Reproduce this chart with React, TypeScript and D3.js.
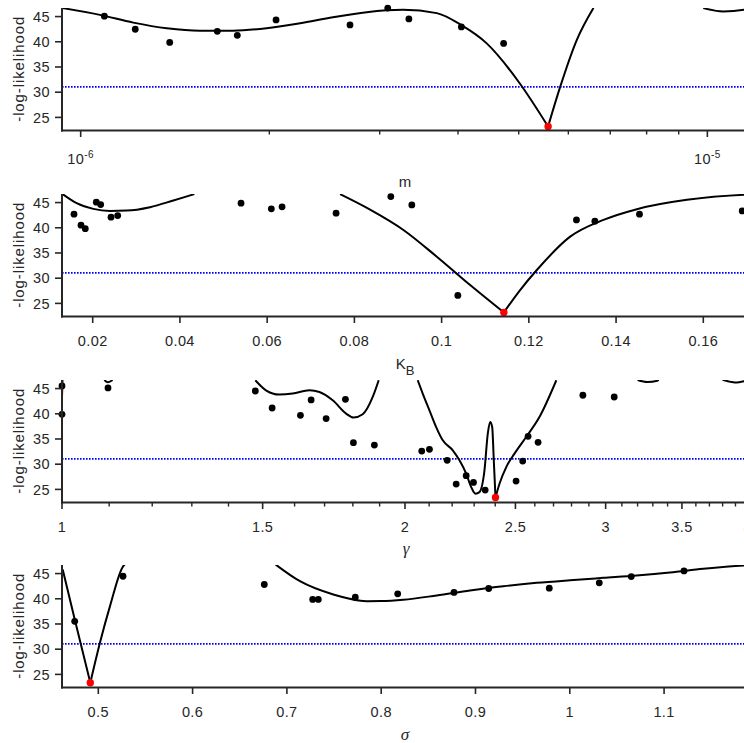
import React from 'react';
import * as d3 from 'd3';

type Pt = [number, number];

// ---------- shared ----------
const Y_DOMAIN: [number, number] = [22.4, 46.7];
const Y_TICKS = [25, 30, 35, 40, 45];
const THRESHOLD = 31.05;
const Y_LABEL = '-log-likelihood';

// ---------- panel 1 : m (log x) ----------
const mTicks = [1e-6, 1e-5];
const mTickExp = ['-6', '-5'];
const mMinor = [2e-6, 3e-6, 4e-6, 5e-6, 6e-6, 7e-6, 8e-6, 9e-6];
const mPoints: Pt[] = [
  [1.091e-6, 45.08], [1.222e-6, 42.48], [1.387e-6, 39.88], [1.652e-6, 42.08], [1.778e-6, 41.28],
  [2.05e-6, 44.34], [2.69e-6, 43.34], [3.09e-6, 46.68], [3.34e-6, 44.54], [4.05e-6, 42.94], [4.73e-6, 39.68],
];
const mBest: Pt = [5.57e-6, 23.2];
const mCurveA: Pt[] = [
  [9.36e-7, 46.68], [1.073e-6, 45.34], [1.213e-6, 43.8], [1.372e-6, 42.68], [1.55e-6, 42.2], [1.75e-6, 42.2],
  [1.98e-6, 42.68], [2.239e-6, 43.68], [2.527e-6, 44.88], [2.86e-6, 45.88], [3.269e-6, 46.34], [3.7e-6, 45.68],
  [4.045e-6, 43.34], [4.445e-6, 39.68], [5.024e-6, 31.68], [5.57e-6, 23.2],
];
const mCurveB: Pt[] = [[5.57e-6, 23.2], [5.821e-6, 31.0], [6.188e-6, 40.34], [6.58e-6, 46.7]];
const mCurveC: Pt[] = [[9.85e-6, 46.68], [1.06e-5, 46.0], [1.144e-5, 46.34], [1.17e-5, 46.6]];

// ---------- panel 2 : K_B ----------
const kTicks = [0.02, 0.04, 0.06, 0.08, 0.1, 0.12, 0.14, 0.16];
const kPoints: Pt[] = [
  [0.01571, 42.69], [0.01732, 40.51], [0.0183, 39.83], [0.02083, 45.08], [0.02183, 44.6], [0.0242, 42.1],
  [0.02573, 42.42], [0.05401, 44.88], [0.06096, 43.75], [0.06342, 44.15], [0.0758, 42.89], [0.08835, 46.19],
  [0.09317, 44.54], [0.10372, 26.59], [0.13092, 41.56], [0.13514, 41.3], [0.14537, 42.69], [0.16892, 43.35],
];
const kBest: Pt = [0.11427, 23.21];
const kCurveA: Pt[] = [
  [0.01312, 46.67], [0.01633, 44.88], [0.02014, 43.75], [0.02397, 43.35], [0.0278, 43.41], [0.03314, 44.09],
  [0.03849, 45.4], [0.0433, 46.67],
];
const kCurveB: Pt[] = [
  [0.07672, 46.67], [0.0836, 43.6], [0.09124, 39.57], [0.0989, 34.26], [0.10654, 28.64], [0.11427, 23.21],
];
const kCurveC: Pt[] = [
  [0.11427, 23.21], [0.118, 27.64], [0.12183, 31.62], [0.12947, 38.24], [0.13711, 41.56], [0.14477, 43.69],
  [0.15624, 45.54], [0.16938, 46.53], [0.1702, 46.55],
];

// ---------- panel 3 : gamma (log x) ----------
const gTicks = [1, 1.5, 2, 2.5, 3, 3.5, 4];
const gMinor = [1.1, 1.2, 1.3, 1.4, 1.6, 1.7, 1.8, 1.9, 2.1, 2.2, 2.3, 2.4, 2.6, 2.7, 2.8, 2.9, 3.1, 3.2, 3.3, 3.4, 3.6, 3.7, 3.8, 3.9];
const gPoints: Pt[] = [
  [1.0, 45.52], [1.0, 39.9], [1.0974, 45.12], [1.478, 44.52], [1.529, 41.15], [1.619, 39.7], [1.6544, 42.74],
  [1.7053, 39.04], [1.7731, 42.87], [1.802, 34.27], [1.88, 33.8], [2.0688, 32.61], [2.1013, 32.94], [2.1779, 30.76],
  [2.2179, 26.05], [2.2632, 27.72], [2.2968, 26.39], [2.3518, 24.86], [2.5033, 26.65], [2.537, 30.62],
  [2.5648, 35.53], [2.6172, 34.33], [2.8651, 43.67], [3.0524, 43.33],
];
const gBest: Pt = [2.4013, 23.4];
const gCurveA: Pt[] = [[1.0, 43.3], [1.001, 46.7]];
const gCurveB: Pt[] = [[1.0893, 46.7], [1.0974, 46.25], [1.1077, 46.7]];
const gCurveC: Pt[] = [
  [1.478, 46.65], [1.5101, 44.66], [1.5513, 43.81], [1.594, 44.01], [1.6487, 44.66], [1.6823, 44.33],
  [1.7282, 42.68], [1.7756, 40.03], [1.802, 39.24], [1.8362, 39.9], [1.8737, 43.33], [1.8965, 46.65],
];
const gCurveD: Pt[] = [
  [2.0521, 46.65], [2.0729, 44.01], [2.1013, 40.69], [2.13, 37.37], [2.1587, 34.73], [2.2027, 32.75],
  [2.2327, 30.76], [2.2632, 28.12], [2.2862, 25.46], [2.3061, 24.15], [2.3248, 24.46], [2.3484, 28.77],
  [2.3642, 36.06], [2.3757, 38.37], [2.3853, 37.37], [2.3931, 30.76], [2.4013, 23.4],
];
const gCurveE: Pt[] = [
  [2.4013, 23.4], [2.4208, 26.13], [2.4541, 29.43], [2.4952, 32.09], [2.5549, 35.39], [2.6243, 39.36], [2.7154, 46.65],
];
const gCurveF: Pt[] = [[3.2, 46.7], [3.265, 46.3], [3.33, 46.55], [3.34, 46.7]];
const gCurveG: Pt[] = [[3.8, 46.75], [3.87, 46.3], [3.91, 46.19], [3.965, 46.45], [4.0, 46.7]];

// ---------- panel 4 : sigma ----------
const sTicks = [0.5, 0.6, 0.7, 0.8, 0.9, 1, 1.1];
const sPoints: Pt[] = [
  [0.47497, 35.52], [0.52619, 44.47], [0.67603, 42.83], [0.72736, 39.87], [0.7333, 39.87], [0.77253, 40.32],
  [0.8175, 40.99], [0.8772, 41.25], [0.914, 42.04], [0.97826, 42.1], [1.03128, 43.16], [1.06522, 44.41], [1.12111, 45.53],
];
const sBest: Pt = [0.49152, 23.34];
const sCurveA: Pt[] = [[0.46225, 45.79], [0.47497, 35.92], [0.49152, 23.34]];
const sCurveB: Pt[] = [[0.49152, 23.34], [0.5018, 31.32], [0.51241, 38.54], [0.5265, 46.5], [0.528, 46.8]];
const sCurveC: Pt[] = [
  [0.68812, 46.78], [0.71389, 43.48], [0.74921, 40.85], [0.78462, 39.53], [0.8, 39.55], [0.82343, 39.8],
  [0.85885, 40.66], [0.89417, 41.64], [0.92948, 42.49], [0.9649, 43.16], [1.00021, 43.68], [1.03553, 44.15],
  [1.07094, 44.61], [1.10626, 45.2], [1.14157, 45.95], [1.18473, 46.6], [1.19, 46.65],
];

// ---------- layout ----------
const W = 744;
const H = 743;
const AX_LEFT = 62;
const AX_RIGHT = 748;
const PANEL_TOPS = [8, 194, 380, 565];
const PANEL_H = 122.5;
const LABEL_OFFSETS = [56, 52, 51, 52.5];
const TXT = '#262626';
const SANS = '"Liberation Sans", Arial, Helvetica, sans-serif';
const SERIF = '"Liberation Serif", "Times New Roman", serif';

type PanelCfg = {
  log: boolean;
  domain: [number, number];
  ticks: number[];
  tickLabels: (React.ReactNode)[];
  minor: number[];
  points: Pt[];
  best: Pt;
  curves: Pt[][];
  label: React.ReactNode;
  sup?: boolean;
};

const panels: PanelCfg[] = [
  {
    log: true, domain: [9.337e-7, 1.161e-5], ticks: mTicks,
    tickLabels: mTickExp.map((e) => (
      <>
        <tspan>10</tspan>
        <tspan dy={-6} fontSize={10}>{e}</tspan>
      </>
    )),
    minor: mMinor, points: mPoints, best: mBest, curves: [mCurveA, mCurveB, mCurveC],
    label: <text fontFamily={SANS} fontSize={15} x={405} textAnchor="middle">m</text>, sup: true,
  },
  {
    log: false, domain: [0.01296, 0.17025], ticks: kTicks,
    tickLabels: kTicks.map((t) => String(+t.toFixed(2))),
    minor: [], points: kPoints, best: kBest, curves: [kCurveA, kCurveB, kCurveC],
    label: (
      <text fontFamily={SANS} fontSize={15} x={405} textAnchor="middle">
        K<tspan dy={6} fontSize={13}>B</tspan>
      </text>
    ),
  },
  {
    log: true, domain: [1, 4], ticks: gTicks,
    tickLabels: gTicks.map((t) => String(t)),
    minor: gMinor, points: gPoints, best: gBest,
    curves: [gCurveA, gCurveB, gCurveC, gCurveD, gCurveE, gCurveF, gCurveG],
    label: <text fontFamily={SERIF} fontStyle="italic" fontSize={17} x={406} textAnchor="middle">γ</text>,
  },
  {
    log: false, domain: [0.4615, 1.189], ticks: sTicks,
    tickLabels: sTicks.map((t) => String(t)),
    minor: [], points: sPoints, best: sBest, curves: [sCurveA, sCurveB, sCurveC],
    label: <text fontFamily={SERIF} fontStyle="italic" fontSize={17} x={405} textAnchor="middle">σ</text>,
  },
];

function Panel({ cfg, top, idx }: { cfg: PanelCfg; top: number; idx: number }) {
  const x: any = cfg.log
    ? d3.scaleLog().domain(cfg.domain).range([AX_LEFT, AX_RIGHT])
    : d3.scaleLinear().domain(cfg.domain).range([AX_LEFT, AX_RIGHT]);
  const bottom = top + PANEL_H;
  const y = d3.scaleLinear().domain(Y_DOMAIN).range([bottom, top]);
  const line = d3
    .line<Pt>()
    .x((d) => x(d[0]))
    .y((d) => y(d[1]))
    .curve(d3.curveMonotoneX);
  const clipId = `clip-${idx}`;
  const labelY = bottom + (cfg.sup ? 33 : 29.5);
  return (
    <g>
      <defs>
        <clipPath id={clipId}>
          <rect x={AX_LEFT} y={top} width={AX_RIGHT - AX_LEFT} height={PANEL_H} />
        </clipPath>
      </defs>
      {/* threshold */}
      <line
        x1={AX_LEFT} x2={AX_RIGHT} y1={y(THRESHOLD)} y2={y(THRESHOLD)}
        stroke="#0000ff" strokeWidth={1.8} strokeDasharray="1.6 1.4"
      />
      {/* curves */}
      <g clipPath={`url(#${clipId})`}>
        {cfg.curves.map((c, i) => (
          <path key={i} d={line(c) || ''} fill="none" stroke="#000" strokeWidth={2} strokeLinejoin="round" />
        ))}
      </g>
      {/* points */}
      {cfg.points.map((p, i) => (
        <circle key={i} cx={x(p[0])} cy={y(p[1])} r={3.4} fill="#000" />
      ))}
      <circle cx={x(cfg.best[0])} cy={y(cfg.best[1])} r={3.7} fill="#ff0000" />
      {/* axes */}
      <line x1={AX_LEFT} x2={AX_LEFT} y1={top} y2={bottom + 1} stroke={TXT} strokeWidth={2} />
      <line x1={AX_LEFT - 1} x2={AX_RIGHT} y1={bottom} y2={bottom} stroke={TXT} strokeWidth={2} />
      {Y_TICKS.map((t) => (
        <g key={t}>
          <line x1={AX_LEFT - 7} x2={AX_LEFT} y1={y(t)} y2={y(t)} stroke={TXT} strokeWidth={1.6} />
          <text
            x={AX_LEFT - 12} y={y(t)} dy="0.36em" textAnchor="end"
            fontFamily={SANS} fontSize={14.5} fill={TXT} letterSpacing={0.4}
          >
            {t}
          </text>
        </g>
      ))}
      {cfg.ticks.map((t, i) => (
        <g key={'x' + i}>
          <line x1={x(t)} x2={x(t)} y1={bottom} y2={bottom + 6.5} stroke={TXT} strokeWidth={1.6} />
          <text
            x={x(t)} y={labelY} textAnchor="middle"
            fontFamily={SANS} fontSize={14.5} fill={TXT} letterSpacing={0.4}
          >
            {cfg.tickLabels[i]}
          </text>
        </g>
      ))}
      {cfg.minor.map((t, i) => (
        <line key={'m' + i} x1={x(t)} x2={x(t)} y1={bottom} y2={bottom + 4} stroke={TXT} strokeWidth={1.4} />
      ))}
      {/* y label */}
      <text
        transform={`translate(23.5, ${(top + bottom) / 2}) rotate(-90)`}
        textAnchor="middle" fontFamily={SANS} fontSize={15} fill={TXT}
        textLength={105} lengthAdjust="spacing"
      >
        {Y_LABEL}
      </text>
      {/* x label */}
      <g transform={`translate(0, ${bottom + LABEL_OFFSETS[idx]})`} fill={TXT}>
        {cfg.label}
      </g>
    </g>
  );
}

export default function App() {
  return (
    <svg
      width={W} height={H} viewBox={`0 0 ${W} ${H}`}
      style={{ position: 'absolute', left: 0, top: 0, background: '#fff' }}
    >
      <rect x={0} y={0} width={W} height={H} fill="#fff" />
      {panels.map((p, i) => (
        <Panel key={i} cfg={p} top={PANEL_TOPS[i]} idx={i} />
      ))}
    </svg>
  );
}
